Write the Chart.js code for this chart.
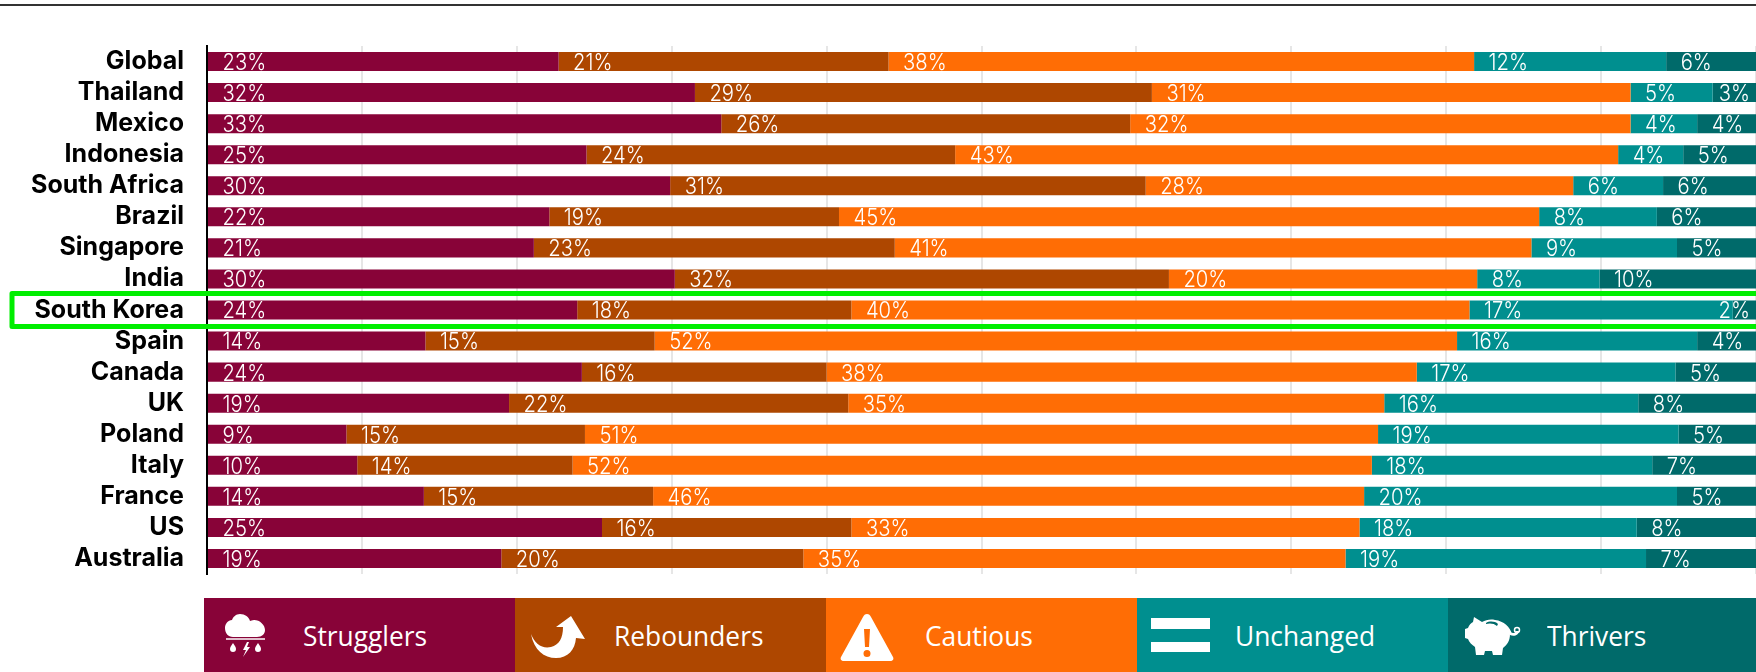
<!DOCTYPE html>
<html><head><meta charset="utf-8">
<script src="https://cdn.jsdelivr.net/npm/chart.js@4"></script>
<style>
html,body{margin:0;padding:0;background:#fff;width:1756px;height:672px;overflow:hidden}
#wrap{position:relative;width:1756px;height:672px}
canvas{position:absolute;left:0;top:0}
#rule{position:absolute;left:0;top:4px;width:1756px;height:2px;background:#333}
.band{position:absolute;top:598px;height:74px}
.name{position:absolute;top:598px;color:#fff;font:400 28px/74px "Open Sans",sans-serif;white-space:nowrap;transform:scaleX(.94);transform-origin:left center}
#icons{position:absolute;left:0;top:0}
</style></head>
<body><div id="wrap">
<div id="rule"></div>
<canvas id="c" width="1756" height="672"></canvas>
<div id="legend"></div>
<svg id="icons" width="1756" height="672" fill="#fff">
  <!-- cloud -->
  <path d="M233 637c-5 0-8-4-8-9 0-4 3-8 7-8 1-3 4-6 8-6 5 0 9 3 10 7 1 0 2-1 4-1 6 0 11 5 11 10 0 4-3 7-8 7z"/>
  <rect x="226" y="638" width="39" height="2" opacity=".75"/>
  <path d="M233 643c2 3 3 4 3 6a3 3 0 0 1-6 0c0-2 1-3 3-6zM258 643c2 3 3 4 3 6a3 3 0 0 1-6 0c0-2 1-3 3-6zM247 642l-4 8h3l-3 7 7-10h-3l2-5z"/>
  <!-- arrow -->
  <path d="M531 634c4 10 11 15 20 13 8-2 12-9 12-20h-7l15-11 14 23-9-1c-1 12-8 20-20 20-12 0-22-8-25-24z"/>
  <!-- triangle -->
  <path fill-rule="evenodd" d="M867 614c2 0 3 1 4 3l22 40c1 2 0 4-3 4h-46c-3 0-4-2-3-4l22-40c1-2 2-3 4-3zm-3 15l1 18h4l1-18zm3 21a3.500 3.500 0 1 0 0 7 3.500 3.500 0 0 0 0-7z"/>
  <!-- equals -->
  <rect x="1151" y="618" width="59" height="11"/><rect x="1151" y="642" width="59" height="10"/>
  <!-- pig -->
  <path fill-rule="evenodd" d="M1474 617l8 5c4-2 8-3 13-2 9 1 15 7 17 14h-2c0 7-3 11-7 14l-1 7h-9l-1-4h-7l-1 4h-8l-1-8c-3-2-6-5-7-8l-3-1v-9l3-1c1-3 3-5 5-6zm12 7c3-1 8-1 11 2l1-2c-3-3-9-3-12-1z"/>
  <path d="M1510 632c3 2 6 1 6-1l3 0c0 4-5 6-9 4z"/>
  <circle cx="1517" cy="630" r="2.500" fill="none" stroke="#fff" stroke-width="1.500"/>
</svg>
</div>
<script>
const categories = ["Global","Thailand","Mexico","Indonesia","South Africa","Brazil","Singapore","India","South Korea","Spain","Canada","UK","Poland","Italy","France","US","Australia"];
const seriesNames = ["Strugglers","Rebounders","Cautious","Unchanged","Thrivers"];
const seriesColors = ["#880338","#ae4700","#ff6d05","#008f8f","#006a6a"];
const highlighted = "South Korea";

const strugglers = [22.7,31.5,33.2,24.5,29.9,22.1,21.1,30.2,23.9,14.1,24.2,19.5,9.0,9.7,14.0,25.5,19.0];
const rebounders = [21.3,29.5,26.4,23.8,30.7,18.7,23.3,31.9,17.7,14.8,15.8,21.9,15.4,13.9,14.8,16.1,19.5];
const cautious   = [37.8,30.9,32.3,42.8,27.6,45.2,41.1,19.9,39.9,51.8,38.1,34.6,51.2,51.6,45.9,32.8,35.0];
const unchanged  = [12.4,5.3,4.3,4.2,5.8,7.6,9.4,7.9,17.0,15.5,16.7,16.4,19.4,18.1,20.2,17.9,19.4];
const thrivers   = [5.8,2.8,3.8,4.7,6.0,6.4,5.1,10.1,1.5,3.8,5.2,7.6,5.0,6.7,5.1,7.7,7.1];

const strugglersLabels = [23,32,33,25,30,22,21,30,24,14,24,19,9,10,14,25,19];
const reboundersLabels = [21,29,26,24,31,19,23,32,18,15,16,22,15,14,15,16,20];
const cautiousLabels   = [38,31,32,43,28,45,41,20,40,52,38,35,51,52,46,33,35];
const unchangedLabels  = [12,5,4,4,6,8,9,8,17,16,17,16,19,18,20,18,19];
const thriversLabels   = [6,3,4,5,6,6,5,10,2,4,5,8,5,7,5,8,7];

const seriesValues = [strugglers,rebounders,cautious,unchanged,thrivers];
const seriesLabels = [strugglersLabels,reboundersLabels,cautiousLabels,unchangedLabels,thriversLabels];

const segmentLabels = {
  id:'segmentLabels',
  afterDatasetsDraw(chart){
    const {ctx,chartArea} = chart;
    const squeeze = 0.88;
    ctx.save();
    ctx.font = '300 23px Inter, sans-serif';
    ctx.fillStyle = '#fff';
    ctx.textBaseline = 'middle';
    ctx.textAlign = 'left';
    chart.data.datasets.forEach((ds,i)=>{
      chart.getDatasetMeta(i).data.forEach((bar,j)=>{
        const t = seriesLabels[i][j]+'%';
        const w = ctx.measureText(t).width*squeeze;
        const left = Math.min(bar.base+14.5, chartArea.right-6-w);
        ctx.save();
        ctx.translate(left,bar.y+1.5);
        ctx.scale(squeeze,1);
        ctx.fillText(t,0,0);
        ctx.restore();
      });
    });
    ctx.restore();
  }
};
const highlightBox = {
  id:'highlightBox',
  afterDraw(chart){
    const {ctx} = chart;
    const y = chart.scales.y.getPixelForValue(categories.indexOf(highlighted));
    ctx.save();
    ctx.strokeStyle = '#00ee00';
    ctx.lineWidth = 5;
    ctx.lineJoin = 'round';
    ctx.strokeRect(12, y-16.5, 1800, 33);
    ctx.restore();
  }
};

Chart.defaults.animation = false;
new Chart(document.getElementById('c'),{
  type:'bar',
  data:{labels:categories,datasets:seriesNames.map((n,i)=>({
    label:n,data:seriesValues[i],backgroundColor:seriesColors[i],
    barPercentage:0.613,categoryPercentage:1,borderWidth:0
  }))},
  options:{
    indexAxis:'y',responsive:false,animation:false,
    layout:{padding:{top:46,bottom:98,left:0,right:0}},
    plugins:{legend:{display:false},tooltip:{enabled:false}},
    scales:{
      x:{stacked:true,min:0,max:100,
         ticks:{display:false,stepSize:10},
         border:{display:false},
         grid:{color:'#e6e6e6',lineWidth:2,drawTicks:false},
         afterFit(s){s.height=0;}},
      y:{stacked:true,
         ticks:{color:'#000',font:{family:'Inter',weight:'700',size:25},padding:23,autoSkip:false},
         grid:{display:false,drawTicks:false},
         border:{color:'#000',width:2},
         afterFit(s){s.width=207;}}
    }
  },
  plugins:[segmentLabels,highlightBox]
});

const bandEdges=[204,515,826,1137,1448,1756];
const textLefts=[303,614,925,1235,1547];
const lg=document.getElementById('legend');
seriesNames.forEach((n,i)=>{
  const b=document.createElement('div');b.className='band';
  b.style.left=bandEdges[i]+'px';b.style.width=(bandEdges[i+1]-bandEdges[i])+'px';b.style.background=seriesColors[i];
  lg.appendChild(b);
  const s=document.createElement('div');s.className='name';s.textContent=n;s.style.left=textLefts[i]+'px';
  lg.appendChild(s);
});
</script>
</body></html>
